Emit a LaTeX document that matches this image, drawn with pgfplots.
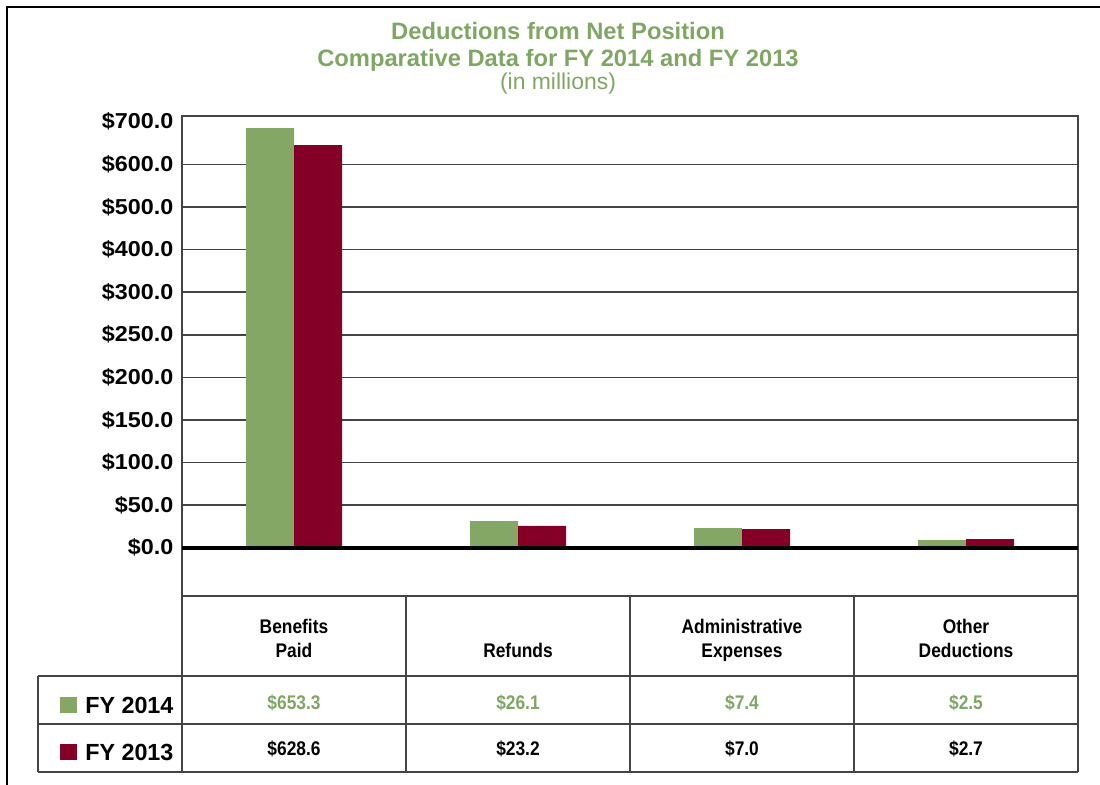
\documentclass[border=0pt]{standalone}
\usepackage{pgfplots}
\pgfplotsset{compat=1.18}
\usepackage{fontspec}
\setmainfont{Liberation Sans}
\newfontfamily\condfont{Liberation Sans}[FakeStretch=0.88]
\newfontfamily\widefont{Liberation Sans}[FakeStretch=1.08]
\definecolor{fygreen}{HTML}{84A765}
\definecolor{fyred}{HTML}{850026}
\definecolor{titlegreen}{HTML}{7FA763}
\definecolor{gridgray}{HTML}{444444}
\begin{document}
\begin{tikzpicture}
\begin{axis}[
  at={(136.5pt,-447pt)}, anchor=south west,
  scale only axis, width=672pt, height=360pt,
  xmin=-0.5, xmax=3.5, ymin=-56.7, ymax=506.7,
  axis line style={draw=gridgray, line width=1.2pt},
  xtick=\empty,
  ytick={0,50,100,150,200,250,300,350,400,450},
  yticklabels={\$0.0,\$50.0,\$100.0,\$150.0,\$200.0,\$250.0,\$300.0,\$400.0,\$500.0,\$600.0},
  extra y ticks={500},
  extra y tick labels={\$700.0},
  extra y tick style={grid=none},
  ymajorgrids,
  grid style={draw=gridgray, line width=1.2pt},
  major tick length=0pt,
  yticklabel style={font=\widefont\bfseries\fontsize{16.2}{17}\selectfont, xshift=-3pt},
  ybar=0pt, bar width=36pt,
]
\addplot[draw=none, fill=fygreen] coordinates {(0,492.6) (1,31.3) (2,23.1) (3,9.0)};
\addplot[draw=none, fill=fyred] coordinates {(0,472.6) (1,25.5) (2,21.9) (3,10.2)};
\draw[black, line width=3pt] (axis cs:-0.5,0) -- (axis cs:3.5,0);
\end{axis}
\begin{scope}[x=0.75pt,y=-0.75pt]
\useasboundingbox (0,0) rectangle (1100,785);
% outer frame (top and left)
\draw[black, line width=1.8pt] (7,785) -- (7,7) -- (1100,7);
% title
\node[anchor=base, text=titlegreen, font=\bfseries\fontsize{17.8}{20}\selectfont] at (558,40) {Deductions from Net Position};
\node[anchor=base, text=titlegreen, font=\bfseries\fontsize{17.8}{20}\selectfont] at (558,66.5) {Comparative Data for FY 2014 and FY 2013};
\node[anchor=base, text=titlegreen, font=\fontsize{17.2}{20}\selectfont] at (558,89) {(in millions)};
% table lines
\begin{scope}[draw=gridgray, line width=1.2pt]
\draw (182,596) -- (1078,596);
\draw (38,676) -- (1078,676);
\draw (38,724) -- (1078,724);
\draw (38,772) -- (1078,772);
\draw (38,676) -- (38,772);
\foreach \xx in {182,406,630,854,1078} {\draw (\xx,596) -- (\xx,772);}
\end{scope}
% legend
\fill[fygreen] (60,697) rectangle (77,713);
\fill[fyred] (60,744) rectangle (77,760);
\node[anchor=base west, inner sep=0pt, font=\bfseries\fontsize{17.5}{20}\selectfont] at (85,713) {FY 2014};
\node[anchor=base west, inner sep=0pt, font=\bfseries\fontsize{17.5}{20}\selectfont] at (85,760) {FY 2013};
% category labels
\tikzset{cat/.style={anchor=base, inner sep=0pt, font=\condfont\bfseries\fontsize{14.8}{18}\selectfont}}
\node[cat] at (294,633) {Benefits};
\node[cat] at (294,657) {Paid};
\node[cat] at (518,657) {Refunds};
\node[cat] at (742,633) {Administrative};
\node[cat] at (742,657) {Expenses};
\node[cat] at (966,633) {Other};
\node[cat] at (966,657) {Deductions};
% values
\tikzset{val/.style={anchor=base, inner sep=0pt, font=\condfont\bfseries\fontsize{14.8}{18}\selectfont}}
\node[val, text=titlegreen] at (294,709) {\$653.3};
\node[val, text=titlegreen] at (518,709) {\$26.1};
\node[val, text=titlegreen] at (742,709) {\$7.4};
\node[val, text=titlegreen] at (966,709) {\$2.5};
\node[val] at (294,755) {\$628.6};
\node[val] at (518,755) {\$23.2};
\node[val] at (742,755) {\$7.0};
\node[val] at (966,755) {\$2.7};
\end{scope}
\end{tikzpicture}
\end{document}
